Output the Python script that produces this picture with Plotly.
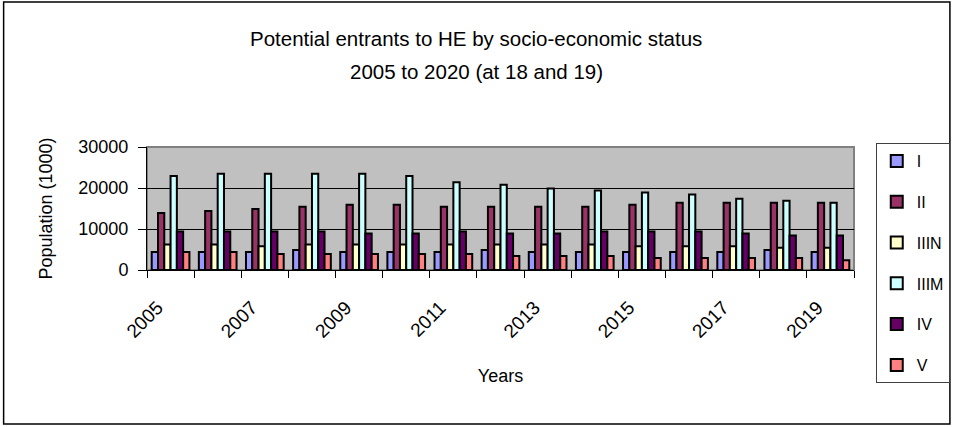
import plotly.graph_objects as go

years = [str(y) for y in range(2005, 2020)]
tick_text = [y if (int(y) - 2005) % 2 == 0 else "" for y in years]

series_names = ["I", "II", "IIIN", "IIIM", "IV", "V"]
s_I = [4400, 4400, 4400, 4900, 4400, 4400, 4400, 4900, 4400, 4400, 4400, 4400, 4400, 4900, 4400]
s_II = [13900, 14400, 14900, 15400, 15900, 15900, 15400, 15400, 15400, 15400, 15900, 16400, 16400, 16400, 16400]
s_IIIN = [6250, 6250, 5800, 6250, 6250, 6250, 6250, 6250, 6250, 6250, 5800, 5800, 5800, 5400, 5400]
s_IIIM = [22900, 23500, 23500, 23500, 23500, 22900, 21400, 20800, 19900, 19400, 18900, 18400, 17400, 16900, 16400]
s_IV = [9400, 9400, 9400, 9400, 8900, 8900, 9400, 8900, 8900, 9400, 9400, 9400, 8900, 8400, 8400]
s_V = [4400, 4400, 3900, 3900, 3900, 3900, 3900, 3400, 3400, 3400, 2900, 2900, 2900, 2900, 2400]
series_values = [s_I, s_II, s_IIIN, s_IIIM, s_IV, s_V]
colors = ["#9999FF", "#993366", "#FFFFCC", "#CCFFFF", "#660066", "#FF8080"]

title_lines = ["Potential entrants to HE by socio-economic status", "2005 to 2020 (at 18 and 19)"]

FONT = "Liberation Sans, Arial, sans-serif"

W, H = 962, 427
L, R, T, B = 147, 100, 147, 157
pw = W - L - R
ph = H - T - B


def px_x(p):
    return (p - L) / pw


def px_y(p):
    return (H - B - p) / ph


fig = go.Figure()
for name, vals, col in zip(series_names, series_values, colors):
    fig.add_trace(go.Bar(
        x=years, y=vals, name=name, legendgroup=name,
        marker=dict(color=col, line=dict(color="black", width=2)),
    ))

fig.update_layout(
    width=W, height=H,
    margin=dict(l=L, r=R, t=T, b=B),
    paper_bgcolor="white",
    plot_bgcolor="#C0C0C0",
    barmode="group",
    bargap=0.2,
    bargroupgap=0,
    font=dict(family=FONT, color="black", size=16),
    showlegend=True,
    legend=dict(
        x=px_x(884), xanchor="left",
        y=px_y(143), yanchor="top",
        bgcolor="white", bordercolor="#404040", borderwidth=1,
        font=dict(family=FONT, size=16, color="black"),
        tracegroupgap=17,
        itemwidth=30,
        maxheight=400,
    ),
    xaxis=dict(
        type="category",
        tickvals=years, ticktext=tick_text,
        tickson="boundaries",
        ticks="outside", ticklen=7, tickcolor="black", tickwidth=1,
        tickangle=-45,
        ticklabelstandoff=18,
        ticklabelshift=-13,
        tickfont=dict(family=FONT, size=19, color="black"),
        showline=True, linecolor="black", linewidth=1,
        showgrid=False,
        title=dict(text="Years", font=dict(family=FONT, size=18, color="black"), standoff=28),
    ),
    yaxis=dict(
        range=[0, 30000],
        tickvals=[0, 10000, 20000, 30000],
        ticktext=["0", "10000", "20000", "30000"],
        ticks="outside", ticklen=8, tickcolor="black", tickwidth=1,
        ticklabelstandoff=6,
        tickfont=dict(family=FONT, size=18, color="black"),
        showline=True, linecolor="black", linewidth=1,
        showgrid=True, gridcolor="black", gridwidth=1,
        zeroline=False,
        title=dict(text="Population (1000)", font=dict(family=FONT, size=18, color="black"), standoff=21),
    ),
)

# title lines
for txt, ypix in zip(title_lines, [38, 71]):
    fig.add_annotation(text=txt, xref="paper", yref="paper", x=px_x(480), y=px_y(ypix),
                       xanchor="center", yanchor="middle", showarrow=False,
                       font=dict(family=FONT, size=20.5, color="black"))

# plot-area frame (grey)
fig.add_shape(type="rect", xref="paper", yref="paper", x0=0, x1=1, y0=0, y1=1,
              line=dict(color="#808080", width=2), layer="below")
# outer chart border
fig.add_shape(type="rect", xref="paper", yref="paper",
              x0=px_x(2), x1=px_x(959), y0=px_y(424), y1=px_y(2),
              line=dict(color="black", width=1.5))

fig.write_html("out.html")
